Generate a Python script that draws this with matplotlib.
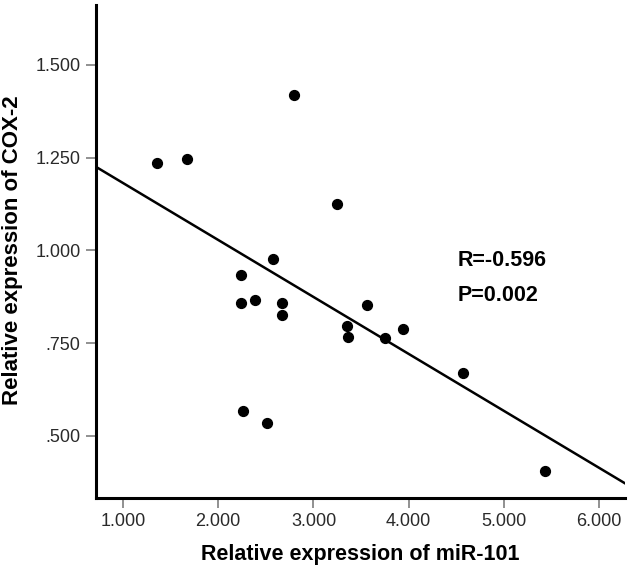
import numpy as np
import matplotlib
matplotlib.use("Agg")
import matplotlib.pyplot as plt

plt.rcParams['font.family'] = ['Liberation Sans', 'DejaVu Sans']

# miR-101 vs COX-2 relative expression
mir101 = [1.36, 1.67, 2.80, 3.25, 2.57, 2.24, 2.24, 2.39, 2.67, 2.67,
          2.26, 2.51, 3.56, 3.35, 3.36, 3.75, 3.94, 4.57, 5.43]
cox2 = [1.234, 1.245, 1.419, 1.124, 0.978, 0.933, 0.858, 0.866, 0.858, 0.825,
        0.567, 0.535, 0.852, 0.796, 0.766, 0.763, 0.788, 0.669, 0.406]

# regression line as drawn in the figure (slope, intercept)
fit_slope = -0.1535
fit_intercept = 1.335

xticks = [1.0, 2.0, 3.0, 4.0, 5.0, 6.0]
xticklabels = ['1.000', '2.000', '3.000', '4.000', '5.000', '6.000']
yticks = [0.5, 0.75, 1.0, 1.25, 1.5]
yticklabels = ['.500', '.750', '1.000', '1.250', '1.500']

x = np.array(mir101)
y = np.array(cox2)

fig = plt.figure(figsize=(6.3, 5.72), dpi=100)
ax = fig.add_axes([0.1524, 0.1294, 0.8396, 0.8619])

xlim = (0.717, 6.27)
ax.set_xlim(*xlim)
ax.set_ylim(0.333, 1.661)

xx = np.array(xlim)
ax.plot(xx, fit_intercept + fit_slope * xx, color='black', lw=1.8)
ax.scatter(x, y, s=50, color='black', zorder=3)

ax.set_xticks(xticks)
ax.set_xticklabels(xticklabels)
ax.set_yticks(yticks)
ax.set_yticklabels(yticklabels)

for s in ['top', 'right']:
    ax.spines[s].set_visible(False)
for s in ['left', 'bottom']:
    ax.spines[s].set_linewidth(2.2)
ax.tick_params(direction='out', length=7, width=1.3, color='#888888',
               labelsize=13, labelcolor='#2a2a2a', pad=4)

ax.set_xlabel('Relative expression of miR-101', fontsize=15.5, fontweight='bold', labelpad=10)
ax.set_ylabel('Relative expression of COX-2', fontsize=16, fontweight='bold')
ax.yaxis.set_label_coords(-0.138, 0.503)

ax.text(4.51, 0.958, 'R=-0.596', fontsize=15.5, fontweight='bold', va='baseline')
ax.text(4.51, 0.864, 'P=0.002', fontsize=15.5, fontweight='bold', va='baseline')

fig.savefig('out.png', dpi=100)
